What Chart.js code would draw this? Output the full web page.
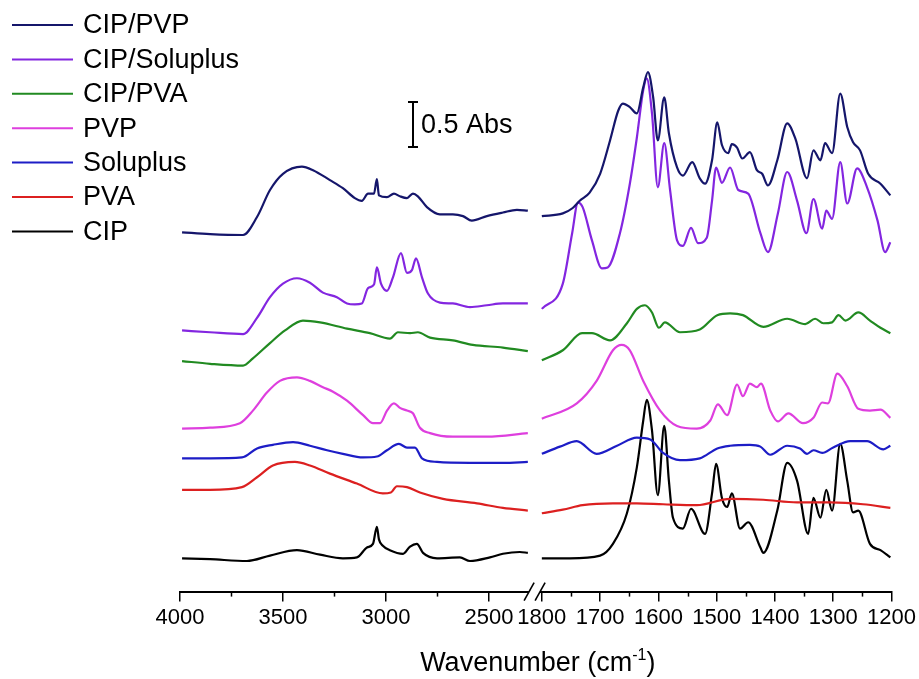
<!DOCTYPE html>
<html>
<head>
<meta charset="utf-8">
<script src="https://cdn.jsdelivr.net/npm/chart.js@4.4.1/dist/chart.umd.min.js"></script>
<style>
  html, body { margin: 0; padding: 0; background: #fff; }
  #wrap { width: 919px; height: 679px; }
</style>
</head>
<body>
<div id="wrap"><canvas id="ftir" width="919" height="679"></canvas></div>
<script>
// Stacked FTIR spectra (absorbance incl. vertical offset), broken wavenumber axis
const seriesNames = ['CIP/PVP', 'CIP/Soluplus', 'CIP/PVA', 'PVP', 'Soluplus', 'PVA', 'CIP'];
const seriesColors = ['#15166b', '#8326e0', '#218a21', '#de3fde', '#1d1dc6', '#dc2020', '#000000'];

const majorTicks = [4000, 3500, 3000, 2500, 1800, 1700, 1600, 1500, 1400, 1300, 1200];
const minorTicks = [3750, 3250, 2750, 1750, 1650, 1550, 1450, 1350, 1250];

const cipPvpWn = [3990, 3854, 3694, 3626, 3563, 3500, 3408, 3354, 3272, 3209, 3151, 3117, 3087, 3058, 3044, 3034, 2995, 2961, 2932, 2898, 2869, 2845, 2801, 2738, 2675, 2626, 2583, 2510, 2432, 2364, 2311,
  1800, 1764, 1747, 1735, 1718, 1700, 1683, 1669, 1661, 1649, 1637, 1626, 1618, 1609, 1601, 1590, 1582, 1568, 1558, 1542, 1529, 1520, 1508, 1499, 1491, 1480, 1474, 1465, 1456, 1443, 1431, 1422, 1412, 1396, 1379, 1365, 1345, 1334, 1322, 1314, 1302, 1288, 1276, 1266, 1254, 1240, 1219, 1202];
const cipPvpAbs = [3.99, 3.97, 3.96, 4.16, 4.46, 4.64, 4.72, 4.68, 4.57, 4.48, 4.37, 4.34, 4.42, 4.42, 4.58, 4.40, 4.38, 4.42, 4.39, 4.37, 4.42, 4.39, 4.27, 4.19, 4.19, 4.17, 4.12, 4.17, 4.21, 4.24, 4.23,
  4.17, 4.20, 4.26, 4.34, 4.43, 4.64, 5.01, 5.34, 5.42, 5.38, 5.31, 5.60, 5.77, 5.49, 5.01, 5.49, 5.09, 4.71, 4.62, 4.77, 4.59, 4.53, 4.79, 5.21, 4.96, 4.87, 4.97, 4.93, 4.81, 4.88, 4.68, 4.64, 4.51, 4.79, 5.20, 5.03, 4.59, 4.90, 4.79, 4.98, 4.87, 5.53, 5.16, 4.99, 4.90, 4.64, 4.53, 4.40];

const cipSolWn = [3990, 3854, 3694, 3626, 3563, 3500, 3432, 3369, 3306, 3238, 3189, 3151, 3117, 3087, 3058, 3044, 3024, 2995, 2966, 2927, 2898, 2874, 2854, 2825, 2796, 2738, 2675, 2592, 2510, 2432, 2311,
  1800, 1764, 1748, 1738, 1730, 1714, 1697, 1687, 1666, 1649, 1637, 1626, 1620, 1611, 1601, 1590, 1580, 1568, 1558, 1544, 1532, 1517, 1508, 1501, 1491, 1477, 1463, 1446, 1425, 1412, 1395, 1379, 1362, 1346, 1334, 1319, 1312, 1302, 1288, 1276, 1259, 1242, 1224, 1211, 1202];
const cipSolAbs = [2.90, 2.88, 2.86, 3.04, 3.27, 3.42, 3.48, 3.43, 3.32, 3.27, 3.20, 3.19, 3.20, 3.37, 3.41, 3.60, 3.42, 3.34, 3.49, 3.76, 3.54, 3.57, 3.70, 3.49, 3.31, 3.21, 3.20, 3.16, 3.18, 3.20, 3.20,
  3.14, 3.42, 3.98, 4.32, 4.27, 3.90, 3.59, 3.60, 3.98, 4.53, 5.04, 5.57, 5.70, 5.31, 4.49, 4.98, 4.46, 3.90, 3.84, 4.04, 3.87, 3.93, 4.34, 4.71, 4.54, 4.71, 4.46, 4.42, 3.98, 3.77, 4.20, 4.66, 4.34, 3.98, 4.36, 4.03, 4.23, 4.14, 4.77, 4.31, 4.70, 4.49, 4.12, 3.77, 3.88];

const cipPvaWn = [3990, 3854, 3694, 3646, 3563, 3490, 3403, 3320, 3189, 3078, 2981, 2942, 2883, 2845, 2786, 2675, 2578, 2432, 2311,
  1800, 1764, 1731, 1714, 1683, 1654, 1637, 1623, 1611, 1599, 1589, 1563, 1529, 1499, 1477, 1455, 1420, 1379, 1348, 1331, 1317, 1302, 1291, 1279, 1257, 1237, 1219, 1202];
const cipPvaAbs = [2.56, 2.53, 2.51, 2.59, 2.76, 2.90, 3.01, 2.99, 2.92, 2.87, 2.81, 2.88, 2.87, 2.88, 2.82, 2.79, 2.74, 2.71, 2.67,
  2.57, 2.68, 2.87, 2.87, 2.79, 2.98, 3.14, 3.18, 3.10, 2.93, 2.99, 2.88, 2.91, 3.07, 3.09, 3.07, 2.94, 3.03, 2.97, 3.03, 2.98, 2.99, 3.07, 3.01, 3.10, 3.01, 2.93, 2.87];

const pvpWn = [3990, 3854, 3709, 3646, 3578, 3515, 3432, 3369, 3306, 3257, 3189, 3111, 3063, 3029, 2995, 2961, 2932, 2898, 2869, 2835, 2786, 2675, 2510, 2311,
  1800, 1740, 1706, 1678, 1663, 1649, 1626, 1597, 1568, 1534, 1511, 1498, 1482, 1465, 1455, 1443, 1431, 1424, 1408, 1395, 1377, 1352, 1334, 1319, 1309, 1293, 1276, 1257, 1237, 1219, 1202];
const pvpAbs = [1.81, 1.82, 1.87, 2.01, 2.21, 2.34, 2.38, 2.34, 2.27, 2.22, 2.12, 1.96, 1.87, 1.87, 2.01, 2.09, 2.04, 2.01, 1.98, 1.82, 1.76, 1.72, 1.72, 1.76,
  1.92, 2.09, 2.34, 2.68, 2.74, 2.68, 2.34, 2.01, 1.84, 1.81, 1.90, 2.08, 1.96, 2.30, 2.17, 2.31, 2.27, 2.31, 2.01, 1.89, 1.98, 1.87, 1.93, 2.10, 2.09, 2.42, 2.28, 2.03, 2.01, 2.02, 1.93];

const solWn = [3990, 3854, 3699, 3626, 3549, 3451, 3369, 3286, 3209, 3111, 3044, 2995, 2937, 2898, 2859, 2825, 2752, 2592, 2432, 2311,
  1800, 1769, 1740, 1706, 1671, 1637, 1614, 1592, 1563, 1529, 1499, 1477, 1443, 1425, 1408, 1379, 1357, 1345, 1334, 1319, 1300, 1271, 1242, 1214, 1202];
const solAbs = [1.48, 1.48, 1.49, 1.59, 1.63, 1.66, 1.62, 1.57, 1.53, 1.49, 1.50, 1.57, 1.64, 1.60, 1.60, 1.48, 1.44, 1.43, 1.43, 1.44,
  1.53, 1.61, 1.67, 1.53, 1.62, 1.71, 1.69, 1.54, 1.46, 1.48, 1.59, 1.62, 1.63, 1.61, 1.52, 1.62, 1.59, 1.53, 1.57, 1.54, 1.60, 1.67, 1.67, 1.58, 1.62];

const pvaWn = [3990, 3854, 3699, 3626, 3549, 3442, 3369, 3272, 3141, 3015, 2976, 2947, 2898, 2835, 2723, 2558, 2432, 2311,
  1800, 1764, 1730, 1678, 1637, 1592, 1534, 1477, 1420, 1362, 1305, 1249, 1202];
const pvaAbs = [1.13, 1.13, 1.16, 1.27, 1.40, 1.44, 1.40, 1.31, 1.20, 1.09, 1.10, 1.17, 1.16, 1.10, 1.03, 0.98, 0.93, 0.90,
  0.87, 0.91, 0.96, 0.98, 0.98, 0.97, 0.96, 1.03, 1.02, 0.99, 0.99, 0.97, 0.93];

const cipWn = [3990, 3854, 3675, 3563, 3432, 3320, 3209, 3141, 3092, 3063, 3044, 3034, 3015, 2981, 2917, 2883, 2850, 2820, 2752, 2641, 2592, 2495, 2432, 2350, 2311,
  1800, 1752, 1700, 1678, 1654, 1637, 1626, 1620, 1611, 1601, 1590, 1582, 1575, 1558, 1544, 1520, 1508, 1501, 1491, 1482, 1474, 1460, 1446, 1425, 1420, 1396, 1379, 1362, 1343, 1334, 1322, 1312, 1302, 1288, 1276, 1266, 1257, 1237, 1219, 1202];
const cipAbs = [0.37, 0.36, 0.34, 0.40, 0.46, 0.41, 0.37, 0.38, 0.49, 0.53, 0.72, 0.58, 0.51, 0.46, 0.42, 0.50, 0.53, 0.43, 0.37, 0.38, 0.34, 0.38, 0.42, 0.44, 0.43,
  0.37, 0.37, 0.40, 0.53, 0.87, 1.38, 1.90, 2.13, 1.79, 1.07, 1.84, 1.23, 0.82, 0.70, 0.92, 0.64, 1.09, 1.42, 1.04, 0.94, 1.09, 0.70, 0.77, 0.49, 0.43, 0.90, 1.43, 1.23, 0.64, 1.04, 0.82, 1.13, 0.90, 1.64, 1.23, 0.88, 0.90, 0.53, 0.46, 0.38];

const seriesWn = [cipPvpWn, cipSolWn, cipPvaWn, pvpWn, solWn, pvaWn, cipWn];
const seriesAbs = [cipPvpAbs, cipSolAbs, cipPvaAbs, pvpAbs, solAbs, pvaAbs, cipAbs];

// broken axis: 4000-2300 on the left, 1800-1200 stretched on the right
const LEFT_END = 2300;
const RIGHT_START = 1800;
const BREAK_GAP = 57;
const RIGHT_STRETCH = 2.83;

function toAxis(w) {
    if (w >= 2000) return 4000 - w;
    return (4000 - LEFT_END) + BREAK_GAP + (RIGHT_START - w) * RIGHT_STRETCH;
}

function buildPoints(wn, ab) {
    const pts = [];
    for (let i = 0; i < wn.length; i++) {
        if (i > 0 && wn[i - 1] >= 2000 && wn[i] < 2000) {
            pts.push({ x: (toAxis(wn[i - 1]) + toAxis(wn[i])) / 2, y: null });
        }
        pts.push({ x: toAxis(wn[i]), y: ab[i] });
    }
    return pts;
}

const tickLabelFor = {};
majorTicks.forEach((w) => { tickLabelFor[toAxis(w).toFixed(2)] = String(w); });

const FONT = 'Arial, "Liberation Sans", sans-serif';
Chart.defaults.font.family = FONT;

const decorPlugin = {
    id: 'decor',
    afterDraw(chart) {
        const { ctx, chartArea, scales } = chart;
        const xs = scales.x;
        const base = chartArea.bottom;
        ctx.save();

        // minor ticks
        ctx.strokeStyle = '#000';
        ctx.lineWidth = 1.5;
        minorTicks.forEach((w) => {
            const px = Math.round(xs.getPixelForValue(toAxis(w))) + 0.5;
            ctx.beginPath();
            ctx.moveTo(px, base);
            ctx.lineTo(px, base + 5);
            ctx.stroke();
        });

        // axis break marks
        const bx1 = xs.getPixelForValue(4000 - LEFT_END) - 1;
        const bx2 = bx1 + 11;
        ctx.fillStyle = '#fff';
        ctx.beginPath();
        ctx.moveTo(bx1 - 3, base + 4);
        ctx.lineTo(bx2 - 3, base + 4);
        ctx.lineTo(bx2 + 3, base - 4);
        ctx.lineTo(bx1 + 3, base - 4);
        ctx.closePath();
        ctx.fill();
        ctx.lineWidth = 1.6;
        [bx1, bx2].forEach((cx) => {
            ctx.beginPath();
            ctx.moveTo(cx - 5, base + 9);
            ctx.lineTo(cx + 5, base - 9);
            ctx.stroke();
        });

        // axis title with superscript
        ctx.fillStyle = '#000';
        ctx.textBaseline = 'alphabetic';
        ctx.textAlign = 'left';
        const mainTxt = 'Wavenumber (cm';
        const supTxt = '-1';
        const endTxt = ')';
        ctx.font = '27px ' + FONT;
        const w1 = ctx.measureText(mainTxt).width;
        const w3 = ctx.measureText(endTxt).width;
        ctx.font = '16px ' + FONT;
        const w2 = ctx.measureText(supTxt).width;
        let tx = (chartArea.left + chartArea.right) / 2 + 2 - (w1 + w2 + w3) / 2;
        const ty = 671;
        ctx.font = '27px ' + FONT;
        ctx.fillText(mainTxt, tx, ty);
        tx += w1;
        ctx.font = '16px ' + FONT;
        ctx.fillText(supTxt, tx, ty - 11);
        tx += w2;
        ctx.font = '27px ' + FONT;
        ctx.fillText(endTxt, tx, ty);

        // 0.5 Abs scale bar
        const barX = 413;
        const barTop = 102;
        const barBottom = barTop + (scales.y.getPixelForValue(0) - scales.y.getPixelForValue(0.5));
        ctx.lineWidth = 2;
        ctx.beginPath();
        ctx.moveTo(barX, barTop);
        ctx.lineTo(barX, barBottom);
        ctx.moveTo(barX - 5, barTop);
        ctx.lineTo(barX + 5, barTop);
        ctx.moveTo(barX - 5, barBottom);
        ctx.lineTo(barX + 5, barBottom);
        ctx.stroke();
        ctx.font = '27px ' + FONT;
        ctx.textBaseline = 'middle';
        ctx.fillText('0.5 Abs', barX + 8, (barTop + barBottom) / 2 + 1);

        // legend
        chart.data.datasets.forEach((ds, i) => {
            const ly = 25 + i * 34.4;
            ctx.strokeStyle = ds.borderColor;
            ctx.lineWidth = 2;
            ctx.beginPath();
            ctx.moveTo(12, ly);
            ctx.lineTo(73, ly);
            ctx.stroke();
            ctx.fillStyle = '#000';
            ctx.font = '27px ' + FONT;
            ctx.textBaseline = 'middle';
            ctx.fillText(ds.label, 83, ly + 1);
        });

        ctx.restore();
    }
};

new Chart(document.getElementById('ftir').getContext('2d'), {
    type: 'line',
    data: {
        datasets: seriesNames.map((name, i) => ({
            label: name,
            data: buildPoints(seriesWn[i], seriesAbs[i]),
            borderColor: seriesColors[i],
            borderWidth: 2.2,
            pointRadius: 0,
            fill: false,
            spanGaps: false,
            cubicInterpolationMode: 'monotone'
        }))
    },
    options: {
        responsive: false,
        animation: false,
        events: [],
        layout: { padding: { left: 180, right: 27.3, top: 0, bottom: 45 } },
        plugins: { legend: { display: false }, tooltip: { enabled: false } },
        scales: {
            x: {
                type: 'linear',
                min: 0,
                max: toAxis(1200),
                afterBuildTicks: (scale) => {
                    scale.ticks = majorTicks.map((w) => ({ value: toAxis(w) }));
                },
                ticks: {
                    autoSkip: false,
                    maxRotation: 0,
                    padding: 3,
                    color: '#000',
                    font: { size: 22 },
                    callback: (value) => tickLabelFor[Number(value).toFixed(2)] || ''
                },
                grid: {
                    display: true,
                    drawOnChartArea: false,
                    drawTicks: true,
                    tickLength: 10,
                    color: '#000',
                    lineWidth: 1.5
                },
                border: { display: true, color: '#000', width: 2 }
            },
            y: {
                display: false,
                min: 0,
                max: 6.57
            }
        }
    },
    plugins: [decorPlugin]
});
</script>
</body>
</html>
